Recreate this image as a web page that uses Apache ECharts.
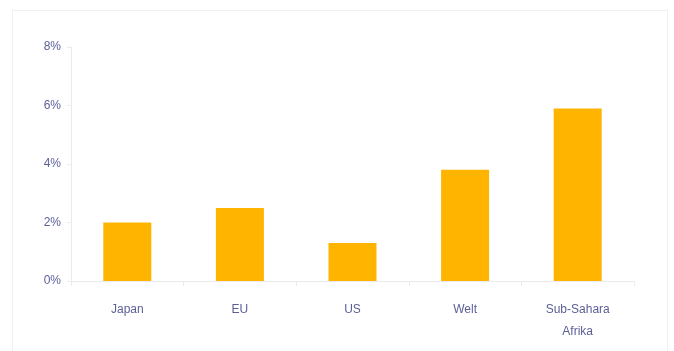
<!DOCTYPE html>
<html>
<head>
<meta charset="utf-8">
<script src="https://cdn.jsdelivr.net/npm/echarts@6/dist/echarts.min.js"></script>
<style>
  html, body { margin: 0; padding: 0; background: #fff; }
  .frame {
    position: absolute;
    left: 12px;
    top: 10px;
    width: 656px;
    height: 360px;
    border: 1px solid #f0f0f2;
    box-sizing: border-box;
  }
  #chart { position: absolute; left: 0; top: 0; width: 674px; height: 351px; }
</style>
</head>
<body>
<div class="frame"></div>
<div id="chart"></div>
<script>
const categories = ['Japan', 'EU', 'US', 'Welt', 'Sub-Sahara\nAfrika']
const values = [2.0, 2.5, 1.3, 3.8, 5.9]
const yTicks = [0, 2, 4, 6, 8]

const labelColor = '#5b5f96'
const lineColor = '#ebebef'
const barColor = '#ffb400'

const chart = echarts.init(document.getElementById('chart'))

chart.setOption({
  animation: false,
  grid: { left: 71, right: 40, top: 47, bottom: 70 },
  xAxis: {
    type: 'category',
    data: categories,
    axisLine: { lineStyle: { color: lineColor } },
    axisTick: { show: true, length: 5, lineStyle: { color: lineColor } },
    axisLabel: {
      color: labelColor,
      fontFamily: 'Liberation Sans',
      fontSize: 12,
      margin: 18,
      lineHeight: 22,
    },
  },
  yAxis: {
    type: 'value',
    min: yTicks[0],
    max: yTicks[yTicks.length - 1],
    interval: 2,
    axisLine: { show: true, lineStyle: { color: lineColor } },
    axisTick: { show: true, length: 4, lineStyle: { color: lineColor } },
    splitLine: { show: false },
    axisLabel: {
      color: labelColor,
      fontFamily: 'Liberation Sans',
      fontSize: 12,
      margin: 10,
      padding: [6, 0, 0, 0],
      formatter: '{value}%',
    },
  },
  series: [
    {
      type: 'bar',
      data: values,
      barWidth: 48,
      itemStyle: { color: barColor },
    },
  ],
})
</script>
</body>
</html>
